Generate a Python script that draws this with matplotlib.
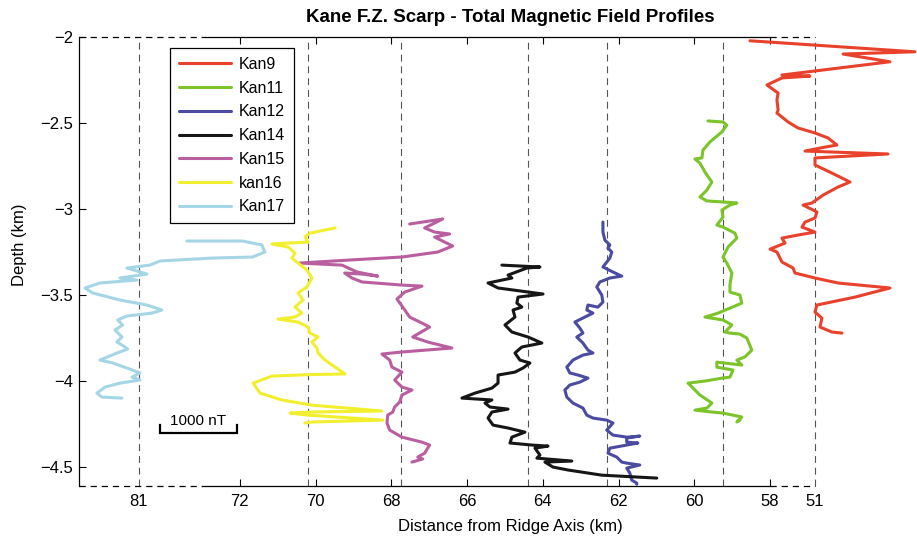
import numpy as np
import matplotlib
matplotlib.use("Agg")
import matplotlib.pyplot as plt

plt.rcParams["font.family"] = ["Liberation Sans", "DejaVu Sans"]
plt.rcParams["lines.scale_dashes"] = False

# x positions of each profile's zero line on the (broken) distance axis
TRACK_POS = {"Kan17": 74.67, "kan16": 70.20, "Kan15": 67.75, "Kan14": 64.39,
             "Kan12": 62.31, "Kan11": 59.24, "Kan9": 56.81}
NT_SCALE = 2.03 / 1000.0   # axis units per nT

COLORS = {"Kan9": "#e8412c", "Kan11": "#7cc42a", "Kan12": "#4b4ba2",
          "Kan14": "#161616", "Kan15": "#b95f9f", "kan16": "#f2ef2e",
          "Kan17": "#a6d6e6"}

# depth (km) and field anomaly (nT) for each profile
kan9_depth = [-2.022, -2.086, -2.099, -2.144, -2.221, -2.227, -2.238, -2.279, -2.326, -2.366,
              -2.424, -2.442, -2.494, -2.529, -2.558, -2.587, -2.628, -2.640, -2.663, -2.680,
              -2.703, -2.744, -2.791, -2.843, -2.872, -2.919, -2.965, -2.977, -3.017, -3.052,
              -3.076, -3.105, -3.134, -3.151, -3.169, -3.198, -3.233, -3.250, -3.308, -3.343,
              -3.372, -3.401, -3.430, -3.459, -3.512, -3.558, -3.599, -3.634, -3.686, -3.715,
              -3.721]
kan9_nt = [-845, 1300, 365, 975, -430, -65, -430, -625, -480, -495,
           -480, -495, -350, -220, 0, 170, 285, 130, -130, 950,
           0, 0, 220, 455, 300, 105, -40, -155, 25, 0,
           -130, -170, 0, -220, -430, -390, -585, -495, -430, -285,
           -260, 0, 300, 975, 520, 25, 0, 90, 65, 220,
           350]

kan11_depth = [-2.488, -2.494, -2.512, -2.552, -2.610, -2.657, -2.703, -2.709, -2.733, -2.785,
               -2.843, -2.890, -2.930, -2.953, -2.959, -2.965, -2.977, -3.006, -3.047, -3.093,
               -3.105, -3.140, -3.169, -3.221, -3.279, -3.314, -3.372, -3.442, -3.483, -3.500,
               -3.547, -3.576, -3.605, -3.628, -3.645, -3.674, -3.715, -3.721, -3.727, -3.750,
               -3.820, -3.860, -3.878, -3.907, -3.890, -3.919, -3.936, -3.977, -3.983, -4.000,
               -4.012, -4.081, -4.128, -4.157, -4.169, -4.180, -4.186, -4.209, -4.238, -4.227]
kan11_nt = [-195, 0, 50, -15, -170, -260, -275, -365, -300, -235,
            -145, -210, -300, -210, 0, 180, 90, -15, 0, -80,
            0, 155, 180, 65, 0, 50, 115, 90, 90, 220,
            245, 90, -65, -235, 0, 115, 25, 90, 220, 310,
            375, 285, 180, 245, -80, -80, 130, 90, -15, -235,
            -455, -300, -145, -210, -365, -145, 0, 245, 180, 220]

kan12_depth = [-3.076, -3.134, -3.180, -3.209, -3.227, -3.250, -3.285, -3.337, -3.366, -3.390,
               -3.401, -3.424, -3.453, -3.500, -3.541, -3.570, -3.558, -3.587, -3.605, -3.628,
               -3.657, -3.692, -3.721, -3.744, -3.779, -3.820, -3.837, -3.849, -3.878, -3.919,
               -3.953, -3.965, -3.983, -4.006, -4.023, -4.052, -4.093, -4.128, -4.157, -4.198,
               -4.215, -4.227, -4.244, -4.285, -4.314, -4.326, -4.320, -4.331, -4.355, -4.360,
               -4.372, -4.390, -4.419, -4.442, -4.471, -4.477, -4.488, -4.506, -4.535, -4.576,
               -4.593, -4.600]
kan12_nt = [-50, -50, -25, 40, 15, 65, 40, -50, 80, 195,
            40, -90, -130, -65, -50, -115, -245, -260, -180, -285,
            -415, -350, -310, -390, -310, -245, -180, -310, -440, -520,
            -480, -375, -245, -350, -480, -545, -520, -440, -310, -260,
            -180, 0, 80, 0, 80, 260, 430, 260, 260, 405,
            260, 40, 15, 130, 195, 260, 430, 260, 300, 325,
            390, 390]

kan14_depth = [-3.326, -3.337, -3.343, -3.384, -3.401, -3.430, -3.459, -3.494, -3.512, -3.547,
               -3.570, -3.587, -3.628, -3.674, -3.715, -3.744, -3.779, -3.802, -3.837, -3.878,
               -3.895, -3.924, -3.948, -3.965, -4.012, -4.041, -4.070, -4.099, -4.110, -4.128,
               -4.151, -4.163, -4.180, -4.215, -4.256, -4.273, -4.297, -4.326, -4.360, -4.372,
               -4.378, -4.390, -4.430, -4.448, -4.465, -4.471, -4.500, -4.517, -4.547, -4.564]
kan14_nt = [-340, 155, -15, -260, -210, -520, -390, 195, -130, -145,
            -80, -195, -170, -300, -210, 0, 180, -80, -170, -105,
            25, -65, -170, -390, -390, -470, -690, -860, -470, -560,
            -495, -260, -470, -520, -455, -260, -40, -210, -235, 50,
            260, 90, 155, 115, 570, 220, 325, 520, 960, 1675]

kan15_depth = [-3.087, -3.058, -3.110, -3.134, -3.145, -3.163, -3.192, -3.215, -3.250, -3.279,
               -3.297, -3.314, -3.326, -3.366, -3.390, -3.378, -3.372, -3.401, -3.424, -3.442,
               -3.448, -3.483, -3.523, -3.570, -3.628, -3.663, -3.686, -3.744, -3.773, -3.808,
               -3.831, -3.843, -3.878, -3.919, -3.948, -3.994, -4.035, -4.052, -4.081, -4.122,
               -4.151, -4.180, -4.198, -4.244, -4.285, -4.326, -4.355, -4.372, -4.419, -4.442,
               -4.453, -4.471]
kan15_nt = [115, 545, 310, 440, 635, 440, 570, 675, 480, 15,
            -690, -1315, -765, -570, -300, -505, -730, -635, -505, 15,
            275, 50, -50, 25, 115, 275, 375, 155, 350, 665,
            15, -245, -145, -115, 15, -80, 15, 145, 15, -15,
            -80, -105, -170, -180, -145, 15, 275, 375, 310, 220,
            285, 145]

kan16_depth = [-3.110, -3.140, -3.163, -3.192, -3.203, -3.221, -3.256, -3.285, -3.314, -3.355,
               -3.401, -3.453, -3.488, -3.529, -3.570, -3.605, -3.628, -3.640, -3.657, -3.686,
               -3.721, -3.744, -3.773, -3.808, -3.837, -3.878, -3.959, -3.962, -3.971, -4.012,
               -4.070, -4.110, -4.140, -4.174, -4.180, -4.186, -4.198, -4.227, -4.238, -4.244]
kan16_nt = [350, 25, -40, 0, -470, -260, -170, -210, -130, -15,
            50, -15, -130, -65, -170, -80, -170, -390, -130, 0,
            25, 130, 50, 115, 130, 220, 480, 50, -470, -715,
            -625, -340, 50, 960, 50, -235, 0, 975, 50, -40]

kan17_depth = [-3.186, -3.186, -3.209, -3.250, -3.279, -3.285, -3.302, -3.326, -3.343, -3.378,
               -3.384, -3.401, -3.413, -3.430, -3.459, -3.488, -3.529, -3.558, -3.587, -3.605,
               -3.622, -3.645, -3.674, -3.703, -3.744, -3.773, -3.802, -3.814, -3.837, -3.878,
               -3.895, -3.924, -3.953, -3.977, -3.994, -4.012, -4.035, -4.070, -4.093, -4.099]
kan17_nt = [625, 1350, 1600, 1640, 1480, 960, 275, 145, -155, 105,
            15, -245, -25, -505, -700, -600, -245, 105, 300, 170,
            -155, -275, -210, -310, -220, -285, -180, -145, -285, -505,
            -340, -155, 15, -90, 15, -245, -440, -545, -480, -220]

profiles = [("Kan9", kan9_depth, kan9_nt), ("Kan11", kan11_depth, kan11_nt),
            ("Kan12", kan12_depth, kan12_nt), ("Kan14", kan14_depth, kan14_nt),
            ("Kan15", kan15_depth, kan15_nt), ("kan16", kan16_depth, kan16_nt),
            ("Kan17", kan17_depth, kan17_nt)]

major_ticks = [72, 70, 68, 66, 64, 62, 60, 58]
y_ticks = [-2, -2.5, -3, -3.5, -4, -4.5]

X_LEFT, X_RIGHT = 76.25, 56.81
Y_BOT, Y_TOP = -4.61, -2.0
SOLID_FROM, SOLID_TO = 73.0, 58.0

fig = plt.figure(figsize=(9.17, 5.39), dpi=100)
ax = fig.add_axes([79 / 917, 1 - 486 / 539, 736 / 917, 449 / 539])
ax.set_xlim(X_LEFT, X_RIGHT)
ax.set_ylim(Y_BOT, Y_TOP)

for side in ("top", "bottom", "right"):
    ax.spines[side].set_visible(False)
ax.spines["left"].set_linewidth(0.9)

# broken frame: solid through the linear part, dashed across the compressed ends
for yy in (Y_BOT, Y_TOP):
    ax.plot([SOLID_FROM, SOLID_TO], [yy, yy], color="k", lw=0.9, clip_on=False)
    for a, b in ((X_LEFT, SOLID_FROM), (SOLID_TO, X_RIGHT)):
        ax.plot([a, b], [yy, yy], color="k", lw=0.9, dashes=(4.5, 3.5), clip_on=False)

for name, pos in TRACK_POS.items():
    ax.plot([pos, pos], [Y_BOT, Y_TOP], color="#555555", lw=0.8,
            dashes=(5, 3.5), clip_on=False, zorder=1)

for name, depth, nt in profiles:
    xs = TRACK_POS[name] - np.array(nt) * NT_SCALE
    ax.plot(xs, depth, color=COLORS[name], lw=2.2, label=name,
            solid_joinstyle="round", solid_capstyle="round", clip_on=False, zorder=3)

# scale bar for 1000 nT
bar_x0 = 74.11
bar_x1 = bar_x0 - 1000 * NT_SCALE
ax.plot([bar_x0, bar_x0, bar_x1, bar_x1], [-4.256, -4.302, -4.302, -4.256],
        color="k", lw=1.6, solid_joinstyle="miter")
ax.text((bar_x0 + bar_x1) / 2, -4.27, "1000 nT", ha="center", va="bottom", fontsize=11)

ax.set_xticks(major_ticks)
ax.set_xticklabels([str(t) for t in major_ticks])
ax.set_xticks([TRACK_POS["Kan17"], TRACK_POS["Kan9"]], minor=True)
ax.set_xticklabels(["81", "51"], minor=True)
ax.tick_params(axis="x", which="major", direction="in", length=5, width=0.8,
               top=True, bottom=True, labelsize=12, pad=6)
ax.tick_params(axis="x", which="minor", length=0, labelsize=12, pad=6)
ax.set_yticks(y_ticks)
ax.set_yticklabels(["\u22122", "\u22122.5", "\u22123", "\u22123.5", "\u22124", "\u22124.5"])
ax.tick_params(axis="y", direction="in", length=5, width=0.8, labelsize=12, pad=4)

leg = ax.legend(loc="upper left", bbox_to_anchor=((170 - 79) / 736, (486 - 48) / 449),
                borderaxespad=0, fontsize=11.5, handlelength=3.3, handletextpad=0.45,
                labelspacing=0.55, borderpad=0.55, fancybox=False, framealpha=1)
leg.get_frame().set_edgecolor("k")
leg.get_frame().set_linewidth(0.9)

fig.text(510 / 917, 1 - 18 / 539, "Kane F.Z. Scarp - Total Magnetic Field Profiles",
         ha="center", va="center", fontsize=13.5, fontweight="bold")
fig.text(510 / 917, 1 - 526 / 539, "Distance from Ridge Axis (km)",
         ha="center", va="center", fontsize=12)
fig.text(20 / 917, 1 - 245 / 539, "Depth (km)", ha="center", va="center",
         rotation=90, fontsize=12)

fig.savefig("out.png", dpi=100)
